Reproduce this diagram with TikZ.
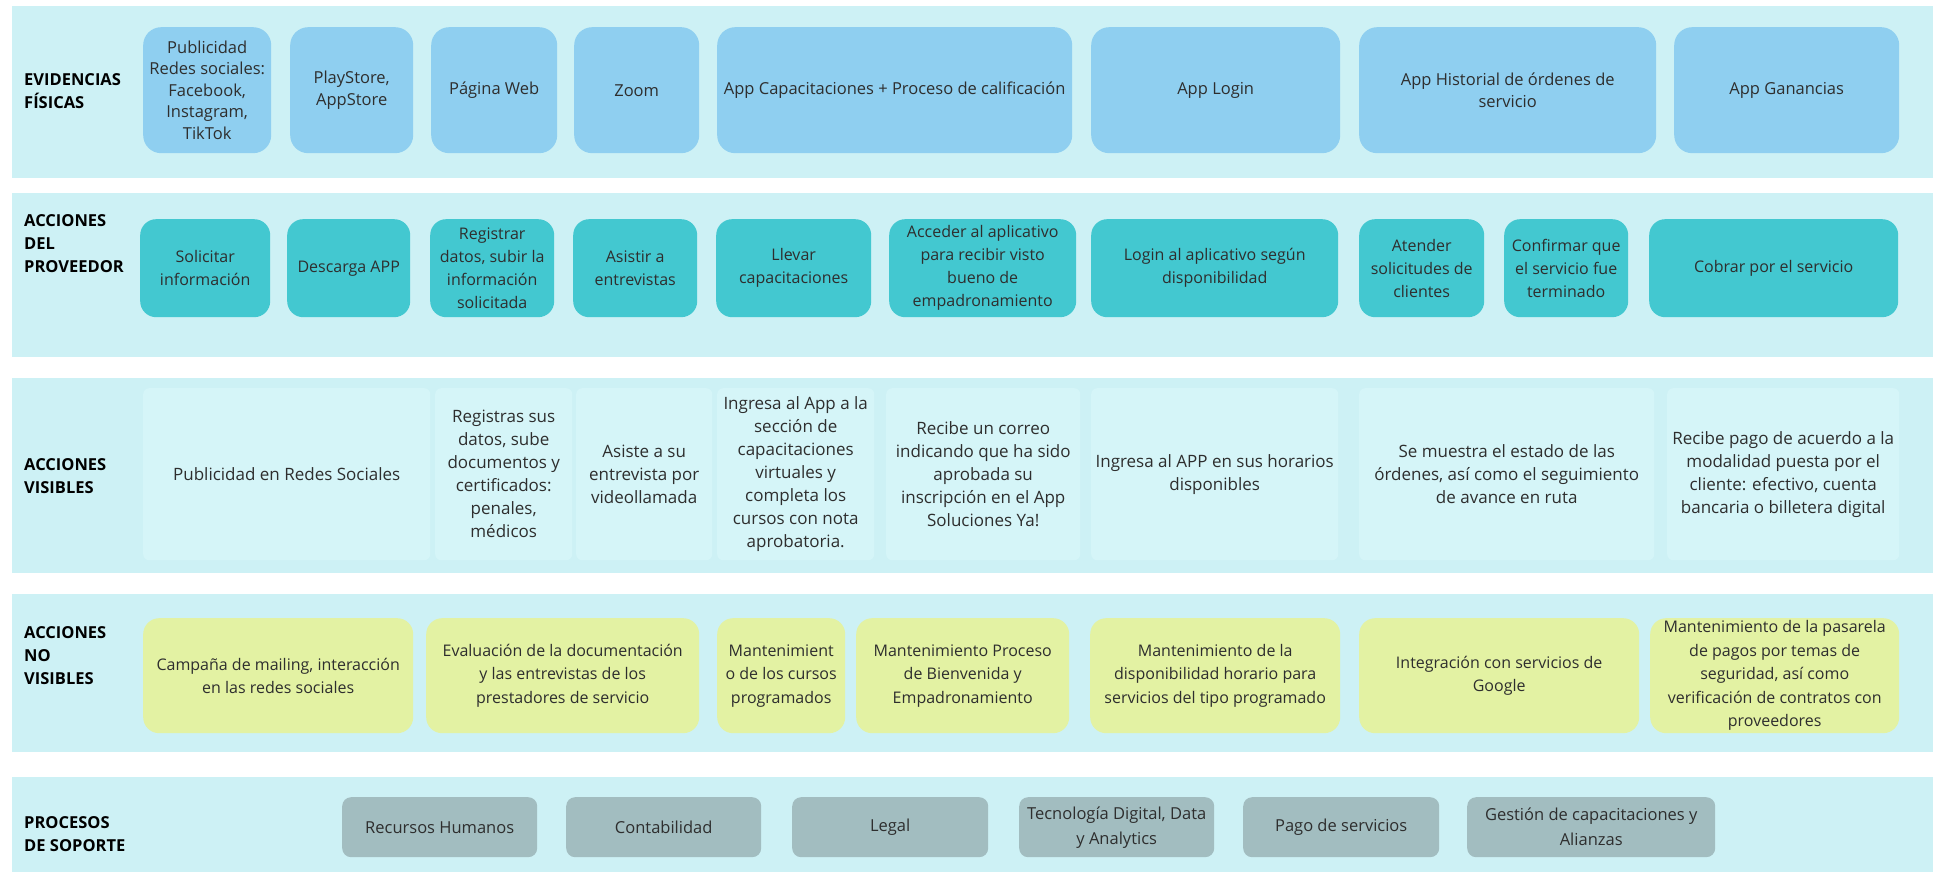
\documentclass[tikz,border=0pt]{standalone}
\usepackage{fontspec}
\setmainfont{Open Sans}
\definecolor{bandc}{HTML}{CDF1F5}
\definecolor{evc}{HTML}{8FCFF0}
\definecolor{apc}{HTML}{43C8D0}
\definecolor{visc}{HTML}{D5F5F8}
\definecolor{nvc}{HTML}{E3F2A3}
\definecolor{spc}{HTML}{A2BDC0}
\definecolor{txt}{HTML}{2E2E2E}
\tikzset{
  every node/.style={font=\fontsize{15}{22}\selectfont, text=txt},
  band/.style={fill=bandc, draw=none, anchor=north west, inner sep=0pt},
  bx/.style={anchor=north west, inner sep=2pt, align=center, draw=none},
  evbox/.style={bx, fill=evc, rounded corners=18pt, font=\fontsize{16.5}{21.5}\selectfont},
  apbox/.style={bx, fill=apc, rounded corners=16pt, font=\fontsize{16}{23}\selectfont},
  visbox/.style={bx, fill=visc, rounded corners=6pt, font=\fontsize{17}{23}\selectfont},
  nvbox/.style={bx, fill=nvc, rounded corners=16pt, font=\fontsize{16}{23.5}\selectfont},
  spbox/.style={bx, fill=spc, rounded corners=9pt, font=\fontsize{16.5}{25}\selectfont},
  lab/.style={anchor=west, align=left, font=\fontsize{16.5}{23}\selectfont\bfseries, text=black, inner sep=0pt}
}
\begin{document}
\begin{tikzpicture}[x=1pt,y=-1pt]
\useasboundingbox (0,0) rectangle (1949,874);
\fill[white] (0,0) rectangle (1949,874);
% bands
\node[band, minimum width=1921pt, minimum height=172pt] (band1) at (12,6) {};
\node[band, minimum width=1921pt, minimum height=164pt] (band2) at (12,193) {};
\node[band, minimum width=1921pt, minimum height=195pt] (band3) at (12,378) {};
\node[band, minimum width=1921pt, minimum height=158pt] (band4) at (12,594) {};
\node[band, minimum width=1921pt, minimum height=95pt] (band5) at (12,777) {};
% labels
\node[lab] (l1) at (24,91) {EVIDENCIAS\\FÍSICAS};
\node[lab] (l2) at (24,244) {ACCIONES\\DEL\\PROVEEDOR};
\node[lab] (l3) at (24,476) {ACCIONES\\VISIBLES};
\node[lab] (l4) at (24,656) {ACCIONES\\NO\\VISIBLES};
\node[lab] (l5) at (24,834) {PROCESOS\\DE SOPORTE};
% row 1
\node[evbox, minimum width=128pt, minimum height=126pt] (e1) at (143,27) {Publicidad\\Redes sociales:\\Facebook,\\Instagram,\\TikTok};
\node[evbox, minimum width=123pt, minimum height=126pt] (e2) at (290,27) {PlayStore,\\AppStore};
\node[evbox, minimum width=126pt, minimum height=126pt] (e3) at (431,27) {Página Web};
\node[evbox, minimum width=125pt, minimum height=126pt] (e4) at (574,27) {Zoom};
\node[evbox, minimum width=355pt, minimum height=126pt] (e5) at (717,27) {App Capacitaciones + Proceso de calificación};
\node[evbox, minimum width=249pt, minimum height=126pt] (e6) at (1091,27) {App Login};
\node[evbox, minimum width=297pt, minimum height=126pt] (e7) at (1359,27) {App Historial de órdenes de\\servicio};
\node[evbox, minimum width=225pt, minimum height=126pt] (e8) at (1674,27) {App Ganancias};
% row 2
\node[apbox, minimum width=130pt, minimum height=98pt] (a1) at (140,219) {Solicitar\\información};
\node[apbox, minimum width=123pt, minimum height=98pt] (a2) at (287,219) {Descarga APP};
\node[apbox, minimum width=124pt, minimum height=98pt] (a3) at (430,219) {Registrar\\datos, subir la\\información\\solicitada};
\node[apbox, minimum width=124pt, minimum height=98pt] (a4) at (573,219) {Asistir a\\entrevistas};
\node[apbox, minimum width=155pt, minimum height=98pt] (a5) at (716,219) {Llevar\\capacitaciones};
\node[apbox, minimum width=187pt, minimum height=98pt] (a6) at (889,219) {Acceder al aplicativo\\para recibir visto\\bueno de\\empadronamiento};
\node[apbox, minimum width=247pt, minimum height=98pt] (a7) at (1091,219) {Login al aplicativo según\\disponibilidad};
\node[apbox, minimum width=125pt, minimum height=98pt] (a8) at (1359,219) {Atender\\solicitudes de\\clientes};
\node[apbox, minimum width=124pt, minimum height=98pt] (a9) at (1504,219) {Confirmar que\\el servicio fue\\terminado};
\node[apbox, minimum width=249pt, minimum height=98pt] (a10) at (1649,219) {Cobrar por el servicio};
% row 3
\node[visbox, minimum width=287pt, minimum height=172pt] (c1) at (143,388) {Publicidad en Redes Sociales};
\node[visbox, minimum width=137pt, minimum height=172pt] (c2) at (435,388) {Registras sus\\datos, sube\\documentos y\\certificados:\\penales,\\médicos};
\node[visbox, minimum width=136pt, minimum height=172pt] (c3) at (576,388) {Asiste a su\\entrevista por\\videollamada};
\node[visbox, minimum width=157pt, minimum height=172pt] (c4) at (717,388) {Ingresa al App a la\\sección de\\capacitaciones\\virtuales y\\completa los\\cursos con nota\\aprobatoria.};
\node[visbox, minimum width=194pt, minimum height=172pt] (c5) at (886,388) {Recibe un correo\\indicando que ha sido\\aprobada su\\inscripción en el App\\Soluciones Ya!};
\node[visbox, minimum width=247pt, minimum height=172pt] (c6) at (1091,388) {Ingresa al APP en sus horarios\\disponibles};
\node[visbox, minimum width=295pt, minimum height=172pt] (c7) at (1359,388) {Se muestra el estado de las\\órdenes, así como el seguimiento\\de avance en ruta};
\node[visbox, minimum width=232pt, minimum height=172pt] (c8) at (1667,388) {Recibe pago de acuerdo a la\\modalidad puesta por el\\cliente: efectivo, cuenta\\bancaria o billetera digital};
% row 4
\node[nvbox, minimum width=270pt, minimum height=115pt] (d1) at (143,618) {Campaña de mailing, interacción\\en las redes sociales};
\node[nvbox, minimum width=273pt, minimum height=115pt] (d2) at (426,618) {Evaluación de la documentación\\y las entrevistas de los\\prestadores de servicio};
\node[nvbox, minimum width=128pt, minimum height=115pt] (d3) at (717,618) {Mantenimient\\o de los cursos\\programados};
\node[nvbox, minimum width=213pt, minimum height=115pt] (d4) at (856,618) {Mantenimiento Proceso\\de Bienvenida y\\Empadronamiento};
\node[nvbox, minimum width=250pt, minimum height=115pt] (d5) at (1090,618) {Mantenimiento de la\\disponibilidad horario para\\servicios del tipo programado};
\node[nvbox, minimum width=280pt, minimum height=115pt] (d6) at (1359,618) {Integración con servicios de\\Google};
\node[nvbox, minimum width=249pt, minimum height=115pt] (d7) at (1650,618) {Mantenimiento de la pasarela\\de pagos por temas de\\seguridad, así como\\verificación de contratos con\\proveedores};
% row 5
\node[spbox, minimum width=195pt, minimum height=60pt] (s1) at (342,797) {Recursos Humanos};
\node[spbox, minimum width=195pt, minimum height=60pt] (s2) at (566,797) {Contabilidad};
\node[spbox, minimum width=196pt, minimum height=60pt] (s3) at (792,797) {Legal};
\node[spbox, minimum width=195pt, minimum height=60pt] (s4) at (1019,797) {Tecnología Digital, Data\\y Analytics};
\node[spbox, minimum width=196pt, minimum height=60pt] (s5) at (1243,797) {Pago de servicios};
\node[spbox, minimum width=248pt, minimum height=60pt] (s6) at (1467,797) {Gestión de capacitaciones y\\Alianzas};
\end{tikzpicture}
\end{document}
